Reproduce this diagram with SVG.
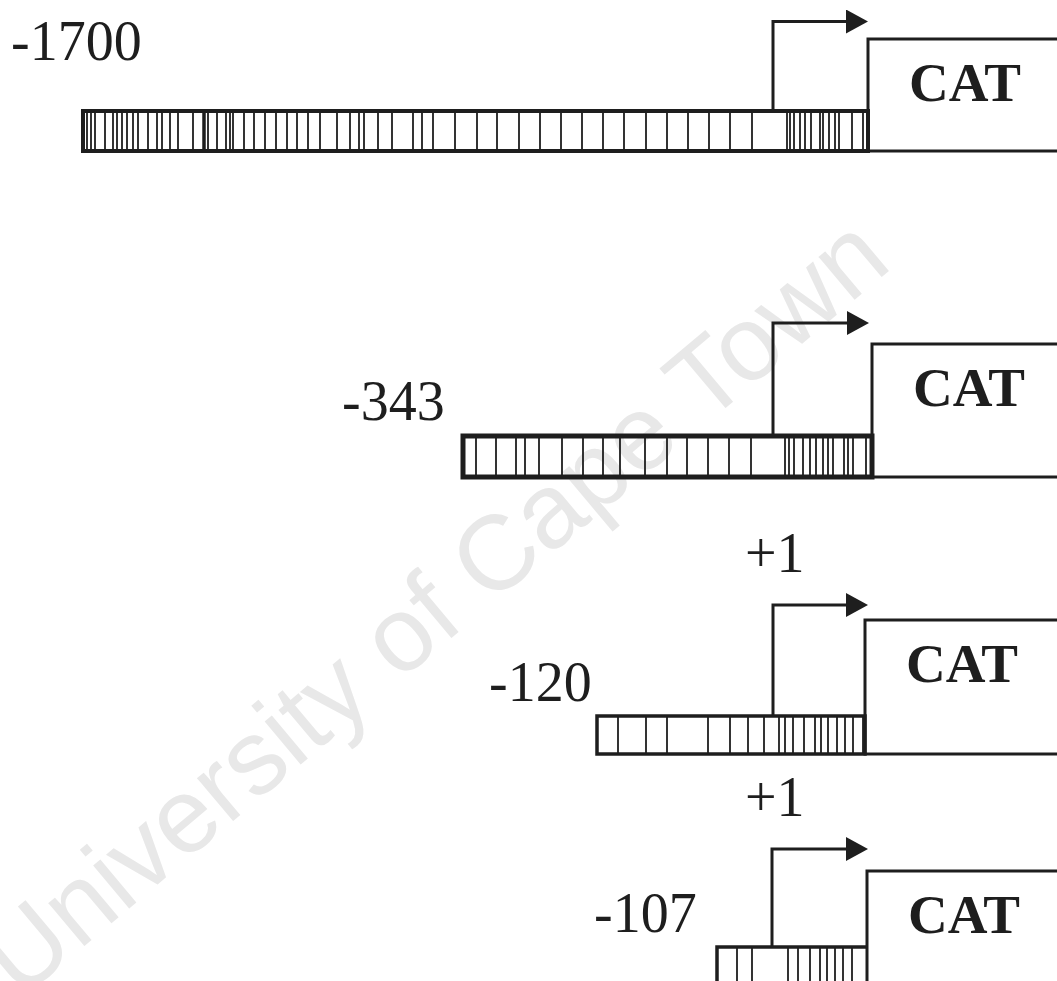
<svg xmlns="http://www.w3.org/2000/svg" width="1057" height="981" viewBox="0 0 1057 981">
<style>
.wm{font-family:"Liberation Sans",Arial,sans-serif;font-size:106px;fill:#e8e8e8}
.lbl{font-family:"Liberation Serif","Times New Roman",serif;font-size:56px;fill:#1e1e1e}
.cat{font-family:"Liberation Serif","Times New Roman",serif;font-size:55px;font-weight:bold;fill:#1e1e1e}
.bar{fill:none;stroke:#1e1e1e}
.tick{fill:none;stroke:#1e1e1e;stroke-width:1.8}
.box{fill:none;stroke:#1e1e1e;stroke-width:3}
.arr{fill:none;stroke:#1e1e1e;stroke-width:3;marker-end:url(#head)}
</style>
<defs>
<marker id="head" markerUnits="userSpaceOnUse" markerWidth="24" markerHeight="26" refX="12" refY="12" orient="auto">
<path d="M0,0 L22,12 L0,24 Z" fill="#1e1e1e"/>
</marker>
</defs>
<rect width="1057" height="981" fill="#fff"/>
<text class="wm" x="20" y="1000" transform="rotate(-40 20 1000)">University of Cape Town</text>

<g id="row1">
<text class="lbl" x="11" y="60">-1700</text>
<rect class="bar" x="83" y="111" width="785" height="40" stroke-width="4"/>
<path class="tick" d="M87,111V151M91,111V151M95,111V151M105,111V151M113,111V151M117,111V151M122,111V151M127,111V151M133,111V151M138,111V151M148,111V151M157,111V151M162,111V151M170,111V151M178,111V151M193,111V151M208,111V151M217,111V151M226,111V151M230,111V151M233,111V151M244,111V151M254,111V151M265,111V151M276,111V151M287,111V151M297,111V151M308,111V151M320,111V151M337,111V151M350,111V151M359,111V151M364,111V151M378,111V151M392,111V151M413,111V151M422,111V151M433,111V151M455,111V151M477,111V151M497,111V151M519,111V151M540,111V151M561,111V151M582,111V151M603,111V151M624,111V151M646,111V151M667,111V151M688,111V151M709,111V151M730,111V151M752,111V151M787,111V151M790,111V151M794,111V151M800,111V151M805,111V151M811,111V151M820,111V151M823,111V151M829,111V151M835,111V151M839,111V151M852,111V151M863,111V151"/>
<path d="M204,111V151" stroke="#1e1e1e" stroke-width="3.5"/>
<rect class="box" x="868" y="39" width="200" height="112"/>
<text class="cat" x="909" y="101">CAT</text>
</g>

<g id="row2">
<text class="lbl" x="342" y="420">-343</text>
<rect class="bar" x="463" y="436" width="409" height="41" stroke-width="5"/>
<path class="tick" d="M476,436V477M496,436V477M516,436V477M525,436V477M539,436V477M562,436V477M583,436V477M603,436V477M620,436V477M645,436V477M667,436V477M687,436V477M708,436V477M729,436V477M751,436V477M785,436V477M789,436V477M794,436V477M803,436V477M810,436V477M816,436V477M823,436V477M828,436V477M833,436V477M844,436V477M848,436V477M853,436V477M866,436V477"/>
<rect class="box" x="872" y="344" width="200" height="133"/>
<text class="cat" x="913" y="406">CAT</text>
</g>

<g id="row3">
<text class="lbl" x="745" y="572">+1</text>
<text class="lbl" x="489" y="701">-120</text>
<rect class="bar" x="597" y="716" width="268" height="38" stroke-width="3.5"/>
<path class="tick" d="M618,716V754M646,716V754M667,716V754M708,716V754M730,716V754M748,716V754M764,716V754M779,716V754M785,716V754M793,716V754M804,716V754M815,716V754M821,716V754M828,716V754M837,716V754M845,716V754M853,716V754M863,716V754"/>
<rect class="box" x="865" y="620" width="200" height="134"/>
<text class="cat" x="906" y="682">CAT</text>
</g>

<g id="row4">
<text class="lbl" x="745" y="816">+1</text>
<text class="lbl" x="594" y="932">-107</text>
<path d="M717,995V947H867" class="bar" stroke-width="3.5"/>
<path class="tick" d="M737,947V990M752,947V990M788,947V990M798,947V990M810,947V990M820,947V990M827,947V990M835,947V990M843,947V990M852,947V990"/>
<rect class="box" x="867" y="871" width="200" height="140"/>
<text class="cat" x="908" y="933">CAT</text>
</g>

<g id="connectors">
<path class="arr" d="M773,111V21.5H858"/>
<path class="arr" d="M773,436V323H859"/>
<path class="arr" d="M773,716V605H858"/>
<path class="arr" d="M772,947V849H858"/>
</g>
</svg>
